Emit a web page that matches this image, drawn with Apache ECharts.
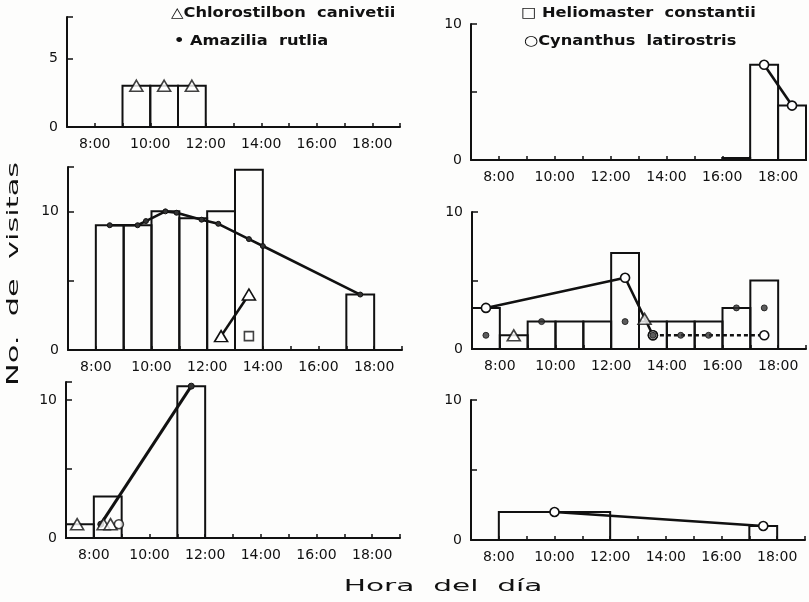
<!DOCTYPE html>
<html>
<head>
<meta charset="utf-8">
<script src="https://cdn.jsdelivr.net/npm/echarts@6/dist/echarts.min.js"></script>
<style>
  html, body { margin: 0; padding: 0; background: #fdfdfc; }
  #chart { width: 809px; height: 602px; }
</style>
</head>
<body>
<div id="chart"></div>
<script>
// Hour ticks shown on every time axis
const xTickHours = [8, 10, 12, 14, 16, 18];
const xTickLabels = ['8:00', '10:00', '12:00', '14:00', '16:00', '18:00'];
// Labelled visit counts on each panel's y axis
const yTickValues = [[0, 5], [0, 10], [0, 10], [0, 10], [0, 10], [0, 10]];
const yTickLabels = [['0', '5'], ['0', '10'], ['0', '10'], ['0', '10'], ['0', '10'], ['0', '10']];

// Species names
const speciesNames = ['Chlorostilbon  canivetii', 'Amazilia  rutlia', 'Heliomaster  constantii', 'Cynanthus  latirostris'];

// Hourly totals: [start hour, end hour, visits]
const p1Bars = [[9, 10, 3], [10, 11, 3], [11, 12, 3]];
const p2Bars = [[16, 17, 0.15], [17, 18, 7], [18, 19, 4]];
const p3Bars = [[8, 9, 9], [9, 10, 9], [10, 11, 10], [11, 12, 9.5], [12, 13, 10], [13, 14, 13], [17, 18, 4]];
const p4Bars = [[7, 8, 3], [8, 9, 1], [9, 10, 2], [10, 11, 2], [11, 12, 2], [12, 13, 7], [13, 14, 2], [14, 15, 2], [15, 16, 2], [16, 17, 3], [17, 18, 5]];
const p5Bars = [[7, 8, 1], [8, 9, 3], [11, 12, 11]];
const p6Bars = [[8, 12, 2], [17, 18, 1]];

// Visits per species: [hour, visits]
const p1Chloro = [[9.5, 3], [10.5, 3], [11.5, 3]];
const p2Cyn = [[17.5, 7], [18.5, 4]];
const p3Amaz = [[8.5, 9], [9.5, 9], [9.8, 9.3], [10.5, 10], [10.9, 9.9], [11.8, 9.4], [12.4, 9.1], [13.5, 8], [14, 7.5], [17.5, 4]];
const p3Chloro = [[12.5, 1], [13.5, 4]];
const p3Helio = [[13.5, 1]];
const p4Cyn = [[7.5, 3], [12.5, 5.2], [13.5, 1]];
const p4CynTail = [[13.5, 1], [17.5, 1]];
const p4Amaz = [[7.5, 1], [9.5, 2], [12.5, 2], [13.5, 1], [14.5, 1], [15.5, 1], [16.5, 3], [17.5, 3]];
const p4Chloro = [[8.5, 1], [13.2, 2.2]];
const p5Amaz = [[8.25, 1], [11.5, 11]];
const p5Chloro = [[7.4, 1], [8.35, 1], [8.6, 1]];
const p5Cyn = [[8.9, 1]];
const p6Cyn = [[10, 2], [17.5, 1]];

// Panel frames
const grids = [
  { left: 67, top: 17, width: 333, height: 110 },
  { left: 471, top: 24, width: 336, height: 136 },
  { left: 68, top: 167, width: 334, height: 183 },
  { left: 472, top: 212, width: 336, height: 137 },
  { left: 66, top: 382, width: 334, height: 156 },
  { left: 471, top: 400, width: 334, height: 140 }
];
const yMax = [8, 10, 13.2, 10, 11.3, 10];

const INK = '#111';
const FONT = 'DejaVu Sans';

const xAxes = grids.map((g, i) => ({
  type: 'value', gridIndex: i, min: 7, max: 19, interval: 1,
  axisLine: { lineStyle: { color: INK, width: 2 } },
  axisTick: { inside: true, length: 4, lineStyle: { color: INK, width: 1.5 } },
  splitLine: { show: false },
  axisLabel: {
    color: INK, fontFamily: FONT, fontSize: 14, margin: 10,
    formatter: v => { const k = xTickHours.indexOf(v); return k < 0 ? '' : xTickLabels[k]; }
  }
}));

const yAxes = grids.map((g, i) => ({
  type: 'value', gridIndex: i, min: 0, max: yMax[i], interval: 5,
  axisLine: { show: true, lineStyle: { color: INK, width: 2 } },
  axisTick: { show: true, inside: true, length: 6, lineStyle: { color: INK, width: 1.5 } },
  splitLine: { show: false },
  axisLabel: {
    color: INK, fontFamily: FONT, fontSize: 14, margin: 9,
    formatter: v => { const k = yTickValues[i].indexOf(v); return k < 0 ? '' : yTickLabels[i][k]; }
  }
}));

function barSeries(i, data) {
  return {
    type: 'custom', xAxisIndex: i, yAxisIndex: i, data, z: 1,
    encode: { x: [0, 1], y: 2 },
    renderItem: (params, api) => {
      const a = api.coord([api.value(0), 0]);
      const b = api.coord([api.value(1), api.value(2)]);
      return {
        type: 'rect',
        shape: { x: a[0], y: b[1], width: b[0] - a[0], height: a[1] - b[1] },
        style: { fill: 'none', stroke: INK, lineWidth: 2 }
      };
    }
  };
}

const markStyle = {
  chloro: { symbol: 'triangle', symbolSize: [13, 11], itemStyle: { color: '#fff', borderColor: INK, borderWidth: 1.6 } },
  amaz: { symbol: 'circle', symbolSize: 6, itemStyle: { color: '#333', borderColor: INK, borderWidth: 1 } },
  helio: { symbol: 'rect', symbolSize: 9, itemStyle: { color: '#fff', borderColor: INK, borderWidth: 1.6 } },
  cyn: { symbol: 'circle', symbolSize: 9, itemStyle: { color: '#fff', borderColor: INK, borderWidth: 1.6 } }
};

function lineSeries(i, data, kind, opts = {}) {
  return Object.assign({
    type: 'line', xAxisIndex: i, yAxisIndex: i, data, z: 3,
    showSymbol: true, showAllSymbol: true, animation: false,
    lineStyle: { color: INK, width: 2.6, type: opts.dash ? [4, 3] : 'solid' }
  }, markStyle[kind]);
}

function dotSeries(i, data, kind, z = 4) {
  return Object.assign({ type: 'scatter', xAxisIndex: i, yAxisIndex: i, data, z }, markStyle[kind]);
}

const series = [
  barSeries(0, p1Bars), barSeries(1, p2Bars), barSeries(2, p3Bars),
  barSeries(3, p4Bars), barSeries(4, p5Bars), barSeries(5, p6Bars),
  dotSeries(0, p1Chloro, 'chloro'),
  lineSeries(1, p2Cyn, 'cyn'),
  Object.assign(lineSeries(2, p3Amaz, 'amaz'), { symbolSize: 5 }),
  lineSeries(2, p3Chloro, 'chloro'),
  dotSeries(2, p3Helio, 'helio'),
  lineSeries(3, p4Cyn, 'cyn'),
  lineSeries(3, p4CynTail, 'cyn', { dash: true }),
  dotSeries(3, p4Amaz, 'amaz', 5),
  dotSeries(3, p4Chloro, 'chloro'),
  Object.assign(lineSeries(4, p5Amaz, 'amaz'), { lineStyle: { color: INK, width: 3 } }),
  dotSeries(4, p5Chloro, 'chloro'),
  dotSeries(4, p5Cyn, 'cyn'),
  lineSeries(5, p6Cyn, 'cyn')
];

// Legend entries: symbol glyph + species name, slightly widened print
function legendText(x, y, text) {
  return {
    type: 'text', x, y, scaleX: 1.16,
    style: { text, fontFamily: FONT, fontSize: 14, fontWeight: 'bold', fill: INK, verticalAlign: 'middle' }
  };
}

const chart = echarts.init(document.getElementById('chart'), null, { renderer: 'canvas' });
chart.setOption({
  animation: false,
  backgroundColor: '#fdfdfc',
  grid: grids.map(g => Object.assign({ containLabel: false }, g)),
  xAxis: xAxes,
  yAxis: yAxes,
  series,
  graphic: [
    legendText(171, 13, '\u25B3' + speciesNames[0]),
    legendText(174, 41, '\u2022 ' + speciesNames[1]),
    legendText(521, 13, '\u25A1 ' + speciesNames[2]),
    legendText(524, 41, '\u25CB' + speciesNames[3]),
    {
      type: 'text', x: 14, y: 274, rotation: Math.PI / 2, scaleX: 1.9,
      style: { text: 'No.  de  visitas', fontFamily: FONT, fontSize: 16, fill: INK, align: 'center', verticalAlign: 'middle' }
    },
    {
      type: 'text', x: 443, y: 587, scaleX: 1.85,
      style: { text: 'Hora  del  día', fontFamily: FONT, fontSize: 16, fill: INK, align: 'center', verticalAlign: 'middle' }
    }
  ]
});
</script>
</body>
</html>
